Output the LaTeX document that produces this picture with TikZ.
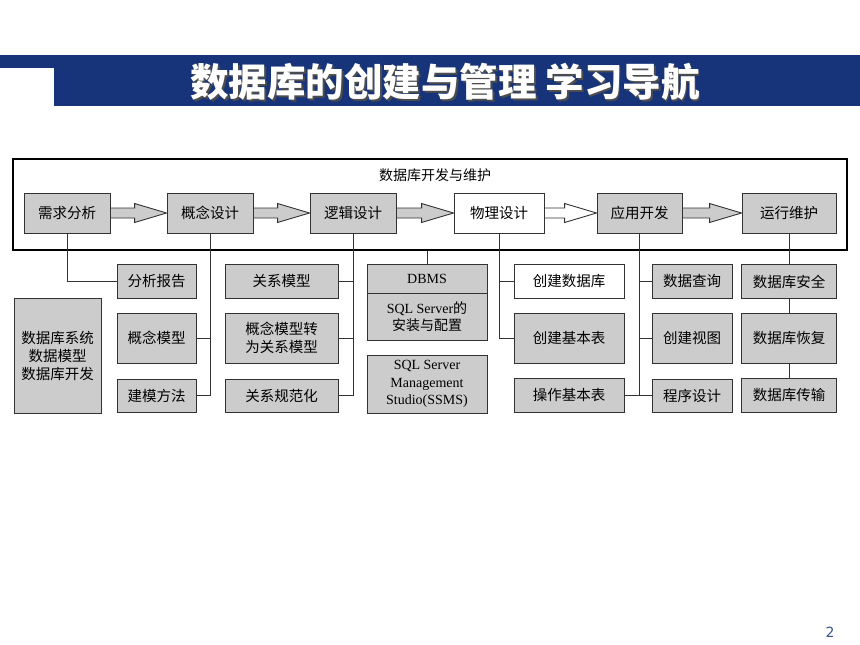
\documentclass[tikz,border=0pt]{standalone}
\usepackage{fontspec}
\setmainfont{Liberation Serif}
\newfontfamily\cjk{Noto Sans CJK SC}
\newfontfamily\pagefont{DejaVu Sans}
\usepackage{tikz}
\usetikzlibrary{calc}

\definecolor{banner}{RGB}{23,51,122}
\definecolor{boxgray}{RGB}{204,204,204}
\definecolor{boxline}{RGB}{50,50,50}

% block arrow between two stages: fill, from, to
\newcommand{\stagearrow}[3]{%
  \draw[draw=boxline,fill=#1,line width=0.9pt,line join=miter] let \p1=(#2.east), \p2=(#3.west) in
    (\x1,\y1+5pt) -- (\x2-32pt,\y1+5pt) -- (\x2-32pt,\y1+9.5pt) -- (\x2,\y1)
    -- (\x2-32pt,\y1-9.5pt) -- (\x2-32pt,\y1-5pt) -- (\x1,\y1-5pt) -- cycle;}
% title text with a soft shadow
\newcommand{\shadowtext}[1]{%
  \makebox[0pt][l]{\kern1.8pt\raisebox{-1.8pt}{\color{black!70}#1}}#1}

\begin{document}
\begin{tikzpicture}[x=1pt,y=-1pt]
    \tikzstyle{box}=[draw=boxline,fill=boxgray,line width=0.9pt,inner sep=0pt,
      align=center,font=\cjk\fontsize{14.5}{18}\selectfont]
    \tikzstyle{stage}=[box,minimum height=40pt]
    \tikzstyle{small}=[box,minimum height=34pt]
    \tikzstyle{tall}=[box,minimum height=50pt]
    \tikzstyle{latin}=[box,font=\fontsize{14}{17.5}\selectfont]
    \tikzstyle{link}=[draw=boxline,line width=0.9pt]

    \useasboundingbox (0,0) rectangle (860,645);

    % title banner
    \fill[banner] (0,55) rectangle (860,67.5);
    \fill[banner] (54,55) rectangle (860,105.5);
    \node[font=\cjk\bfseries\fontsize{38.5}{40}\selectfont,text=white] (title) at (445,83)
      {\shadowtext{数据库的创建与管理 学习导航}};

    % development process
    \node[draw,line width=1.3pt,minimum width=834pt,minimum height=91pt,inner sep=0pt]
      (outer) at (430,204.5) {};
    \node[font=\cjk\fontsize{14}{16}\selectfont] (outertitle) at (435,175) {数据库开发与维护};

    \node[stage,minimum width=86pt] (xqfx) at (67,213)    {需求分析};
    \node[stage,minimum width=86pt] (gnsj) at (210,213)   {概念设计};
    \node[stage,minimum width=86pt] (ljsj) at (353,213)   {逻辑设计};
    \node[stage,minimum width=90pt,fill=white] (wlsj) at (499,213) {物理设计};
    \node[stage,minimum width=85pt] (yykf) at (639.5,213) {应用开发};
    \node[stage,minimum width=94pt] (yxwh) at (789,213)   {运行维护};

    \stagearrow{boxgray}{xqfx}{gnsj}
    \stagearrow{boxgray}{gnsj}{ljsj}
    \stagearrow{boxgray}{ljsj}{wlsj}
    \stagearrow{white}{wlsj}{yykf}
    \stagearrow{boxgray}{yykf}{yxwh}

    % topics
    \node[box,minimum width=87pt,minimum height=115pt] (sjkxt) at (57.5,355.5)
      {数据库系统\\数据模型\\数据库开发};

    \node[small,minimum width=79pt] (fxbg) at (156.5,281)   {分析报告};
    \node[tall,minimum width=79pt]  (gnmx) at (156.5,338)   {概念模型};
    \node[small,minimum width=79pt,minimum height=33pt] (jmff) at (156.5,395.5) {建模方法};

    \node[small,minimum width=113pt] (gxmx) at (281.5,281)  {关系模型};
    \node[tall,minimum width=113pt]  (mxzh) at (281.5,338)  {概念模型转\\为关系模型};
    \node[small,minimum width=113pt,minimum height=33pt] (gxgfh) at (281.5,395.5) {关系规范化};

    \node[latin,minimum width=120pt,minimum height=29pt] (dbms) at (427,278.5) {DBMS};
    \node[latin,minimum width=120pt,minimum height=47pt] (sqlaz) at (427,316.5)
      {SQL Server{\cjk 的}\\{\cjk 安装与配置}};
    \node[latin,minimum width=120pt,minimum height=58pt] (ssms) at (427,384)
      {SQL Server\\Management\\Studio(SSMS)};

    \node[small,minimum width=110pt,fill=white] (cjsjk) at (569,281) {创建数据库};
    \node[tall,minimum width=110pt]  (cjjbb) at (569,338)   {创建基本表};
    \node[small,minimum width=110pt] (czjbb) at (569,395)   {操作基本表};

    \node[small,minimum width=80pt] (sjcx) at (692,281)     {数据查询};
    \node[tall,minimum width=80pt]  (cjst) at (692,338)     {创建视图};
    \node[small,minimum width=80pt,minimum height=33pt] (cxsj) at (692,395.5) {程序设计};

    \node[small,minimum width=95pt] (sjkaq) at (789,281.5)  {数据库安全};
    \node[tall,minimum width=95pt]  (sjkhf) at (789,338)    {数据库恢复};
    \node[small,minimum width=95pt] (sjkcs) at (789,395)    {数据库传输};

    % connectors
    \draw[link] (xqfx.south) |- (fxbg.west);
    \draw[link] (gnsj.south) |- (jmff.east);
    \draw[link] (gnmx.east) -- (gnmx.east -| gnsj.south);
    \draw[link] (ljsj.south) |- (gxgfh.east);
    \draw[link] (gxmx.east) -- (gxmx.east -| ljsj.south);
    \draw[link] (mxzh.east) -- (mxzh.east -| ljsj.south);
    \draw[link] (dbms.north) -- (dbms.north |- outer.south);
    \draw[link] (wlsj.south) |- (cjjbb.west);
    \draw[link] (cjsjk.west) -- (cjsjk.west -| wlsj.south);
    \draw[link] (yykf.south) |- (cxsj.west);
    \draw[link] (sjcx.west) -- (sjcx.west -| yykf.south);
    \draw[link] (cjst.west) -- (cjst.west -| yykf.south);
    \draw[link] (czjbb.east) -- (czjbb.east -| yykf.south);
    \draw[link] (yxwh) -- (sjkaq) -- (sjkhf) -- (sjkcs);

    \node[font=\pagefont\fontsize{14}{16}\selectfont,text=banner!85] (pagenum) at (830,632) {2};
\end{tikzpicture}
\end{document}
